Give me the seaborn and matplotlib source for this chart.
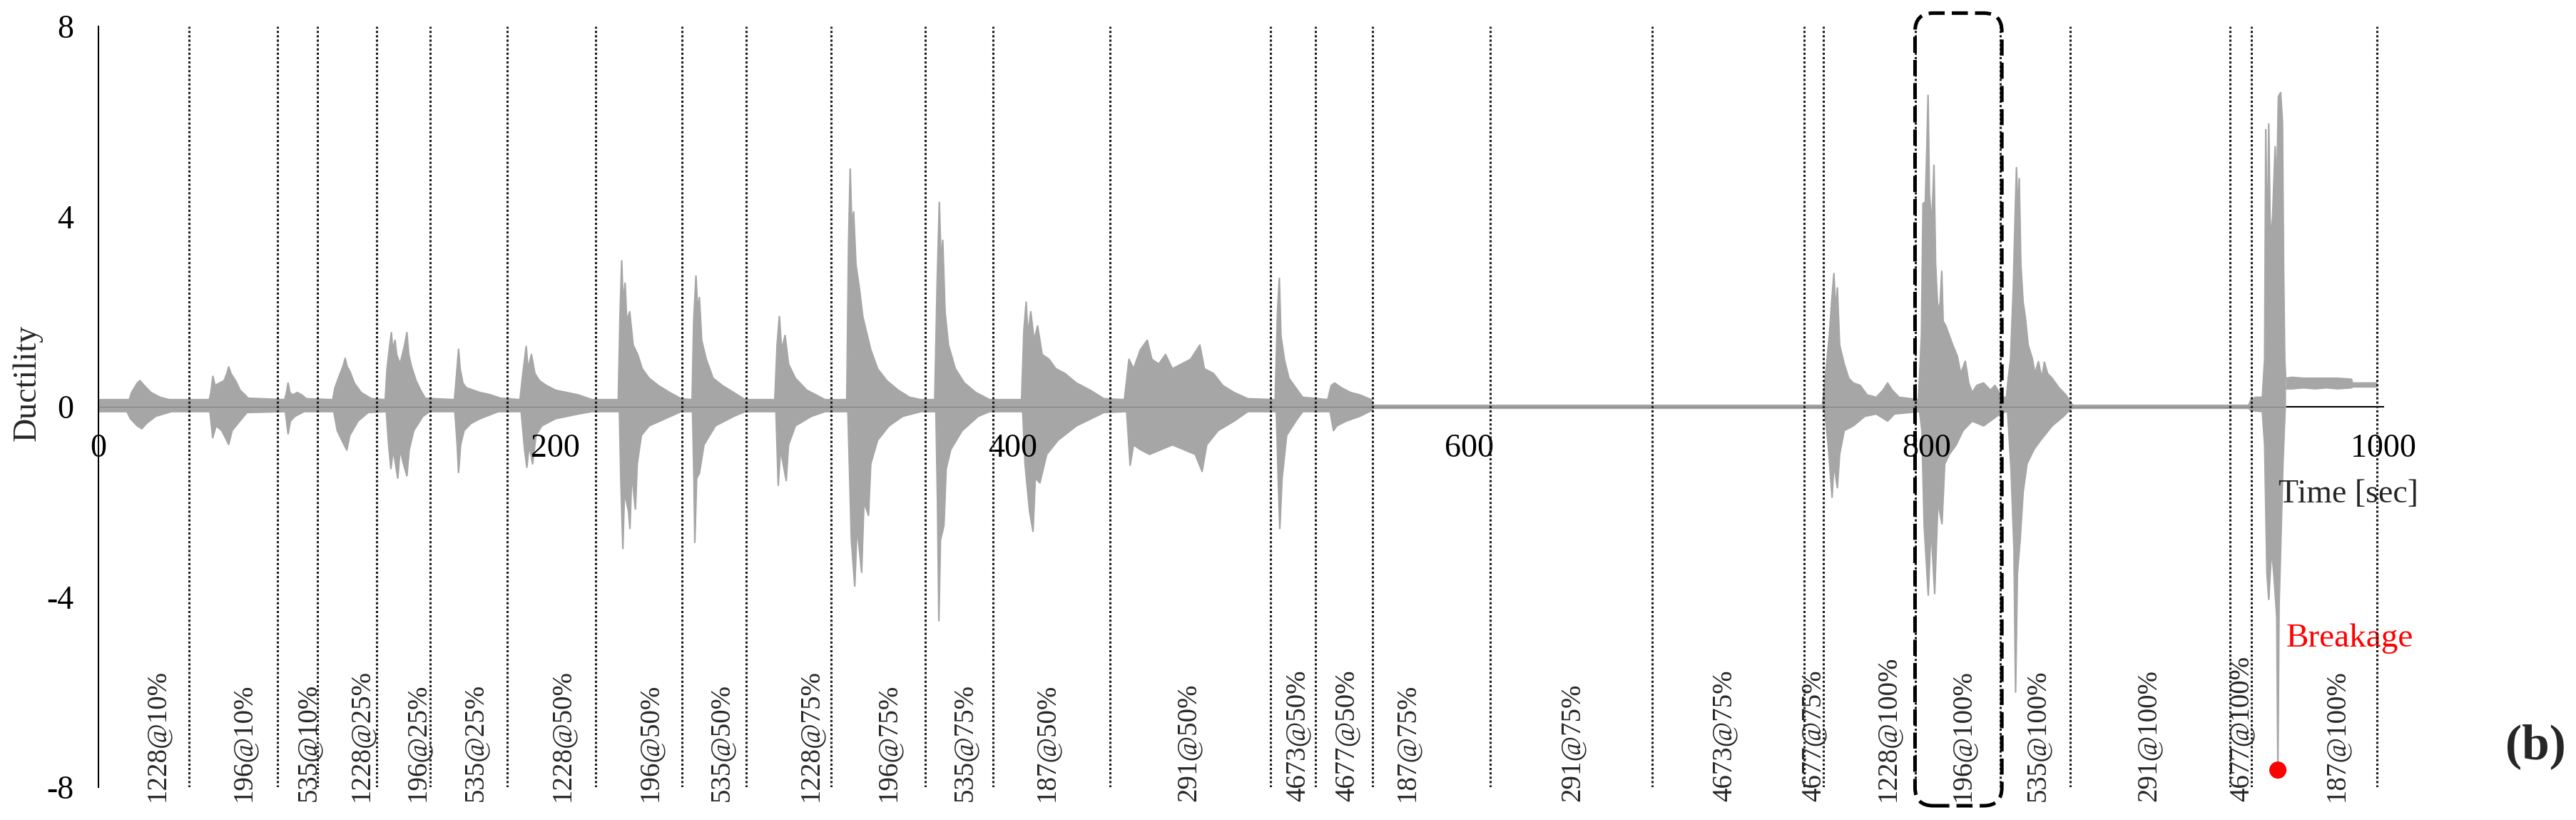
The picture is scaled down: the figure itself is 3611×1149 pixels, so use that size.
import matplotlib
matplotlib.use("Agg")
import matplotlib.pyplot as plt
from matplotlib.patches import FancyBboxPatch
import seaborn as sns

# ---------------- data ----------------
# end time [sec] of each loading stage, its name and where the name is written
stage_end = [39.6, 78.3, 95.7, 121.8, 145.3, 179.0, 217.5, 255.4, 283.6, 320.7,
             361.9, 391.6, 442.8, 512.9, 532.5, 557.6, 609.2, 680.0, 746.5, 754.8,
             795.1, 832.4, 862.9, 932.8, 942.1, 997.3]
stage_name = ["1228@10%", "196@10%", "535@10%", "1228@25%", "196@25%", "535@25%",
              "1228@50%", "196@50%", "535@50%", "1228@75%", "196@75%", "535@75%",
              "187@50%", "291@50%", "4673@50%", "4677@50%", "187@75%", "291@75%",
              "4673@75%", "4677@75%", "1228@100%", "196@100%", "535@100%",
              "291@100%", "4677@100%", "187@100%"]
stage_label_t = [25.9, 63.5, 92.1, 115.2, 139.6, 165.1, 203.2, 241.6, 272.6, 311.6,
                 345.9, 379.3, 415.2, 477.0, 524.8, 546.4, 572.6, 645.0, 711.5, 750.5,
                 783.3, 816.1, 848.6, 897.3, 937.9, 979.4]

# upper envelope of the ductility record
up_t = [0, 13.5, 14.5, 17.0, 18.2, 20.0, 23.0, 27.0, 31.0, 48.5, 49.2, 50.1, 51.0, 53.0,
        55.0, 56.2, 57.0, 58.0, 60.0, 62.0, 65.6, 81.5, 82.3, 83.0, 83.8, 85.0, 87.0,
        89.0, 91.0, 102.5, 103.5, 105.0, 107.0, 108.0, 108.8, 110.0, 112.0, 115.0,
        119.5, 125.5, 126.3, 127.5, 128.2, 128.8, 129.8, 130.5, 132.0, 134.0, 135.0,
        135.8, 137.0, 139.0, 141.0, 143.0, 155.8, 156.6, 157.6, 158.3, 159.5, 161.0,
        164.0, 167.0, 171.0, 176.0, 184.5, 185.5, 186.5, 187.2, 188.0, 189.5, 191.0,
        193.0, 196.0, 200.0, 205.0, 210.0, 216.0, 227.5, 228.3, 229.0, 229.6, 230.5,
        231.2, 232.5, 234.0, 236.0, 238.0, 241.0, 245.0, 250.0, 255.0, 259.8, 260.5,
        261.5, 262.3, 263.0, 264.0, 266.0, 269.0, 273.0, 278.0, 283.0, 296.0, 297.0,
        298.0, 299.0, 300.5, 302.0, 305.0, 310.0, 318.0, 327.5, 328.3, 329.0, 329.7,
        330.5, 331.5, 333.0, 334.5, 336.0, 338.0, 341.0, 345.0, 350.0, 355.0, 360.0,
        366.0, 367.0, 368.0, 368.8, 369.5, 370.5, 372.0, 375.0, 379.0, 384.0, 390.0,
        404.0, 405.0, 406.0, 406.8, 408.0, 409.5, 411.0, 413.0, 416.0, 419.0, 423.0,
        428.0, 434.0, 440.0, 449.0, 451.0, 453.0, 456.0, 459.0, 461.0, 464.0, 467.0,
        470.0, 474.0, 478.0, 482.0, 484.0, 488.0, 492.0, 497.0, 503.0, 515.0, 516.0,
        516.8, 517.5, 519.0, 521.0, 524.0, 527.0, 538.0, 539.5, 541.0, 544.0, 548.0,
        552.0, 557.0, 558.0, 754.5, 755.5, 757.5, 758.5, 759.5, 760.3, 761.0, 762.0,
        764.0, 766.0, 768.0, 771.0, 774.0, 778.0, 781.0, 783.0, 785.0, 788.0, 796.5,
        797.8, 798.5, 799.5, 800.2, 800.7, 801.3, 802.3, 803.3, 804.0, 805.0, 806.0,
        806.7, 807.3, 808.5, 810.0, 811.5, 813.5, 815.0, 817.0, 818.5, 820.0, 822.0,
        825.0, 828.0, 830.0, 833.0, 835.0, 835.8, 836.8, 838.0, 838.8, 839.4, 840.1,
        840.6, 841.3, 842.3, 843.3, 844.5, 846.3, 847.5, 849.0, 850.5, 851.6, 853.0,
        855.0, 858.0, 861.0, 863.0, 864.0, 941.0, 942.0, 944.0, 947.0, 948.0, 948.5,
        949.2, 949.8, 950.5, 951.5, 952.6, 953.3, 954.0, 955.0, 955.8, 956.3, 956.8,
        957.2]
up_v = [0.15, 0.15, 0.3, 0.5, 0.55, 0.45, 0.3, 0.2, 0.15, 0.15, 0.3, 0.64, 0.45, 0.5,
        0.55, 0.7, 0.84, 0.7, 0.55, 0.35, 0.18, 0.15, 0.3, 0.5, 0.3, 0.25, 0.3,
        0.25, 0.17, 0.15, 0.4, 0.6, 0.85, 1.02, 0.85, 0.75, 0.5, 0.3,
        0.17, 0.15, 0.8, 1.3, 1.56, 1.2, 1.4, 1.1, 0.9, 1.3, 1.56,
        1.1, 0.85, 0.55, 0.35, 0.18, 0.15, 0.6, 1.21, 0.8, 0.5, 0.4,
        0.35, 0.3, 0.26, 0.18, 0.15, 0.6, 1.0, 1.27, 0.8, 1.1, 0.7,
        0.55, 0.45, 0.35, 0.3, 0.25, 0.15, 0.15, 2.0, 3.07, 2.2, 2.6,
        1.8, 2.0, 1.3, 1.1, 0.8, 0.6, 0.45, 0.3, 0.17, 0.15, 1.8,
        2.75, 2.0, 2.3, 1.4, 1.0, 0.6, 0.45, 0.3, 0.15, 0.15, 1.3,
        1.9, 1.2, 1.5, 0.9, 0.6, 0.35, 0.15, 0.15, 3.5, 5.0, 3.8,
        4.1, 3.0, 2.5, 1.9, 1.6, 1.2, 0.8, 0.55, 0.35, 0.2, 0.15,
        0.15, 2.5, 4.3, 3.0, 3.5, 2.0, 1.3, 0.8, 0.5, 0.3, 0.15,
        0.15, 1.6, 2.2, 1.5, 2.0, 1.4, 1.7, 1.1, 1.0, 0.8, 0.7,
        0.5, 0.35, 0.17, 0.15, 1.0, 0.8, 1.2, 1.4, 1.0, 0.9, 1.1,
        0.8, 0.9, 1.0, 1.3, 0.8, 0.7, 0.45, 0.3, 0.17, 0.15, 2.0,
        2.7, 1.5, 1.0, 0.6, 0.4, 0.2, 0.15, 0.45, 0.5, 0.4, 0.3,
        0.25, 0.15, 0.03, 0.03, 0.5, 1.5, 2.2, 2.8, 2.0, 2.5, 1.3,
        0.9, 0.6, 0.5, 0.45, 0.25, 0.2, 0.35, 0.5, 0.35, 0.2, 0.15,
        1.5, 4.28, 4.3, 5.5, 6.55, 4.5, 3.8, 5.08, 3.0, 2.0, 2.2,
        2.85, 1.8, 1.7, 1.5, 1.3, 1.07, 0.7, 0.96, 0.5, 0.3, 0.45,
        0.5, 0.35, 0.45, 0.2, 0.2, 0.6, 1.0, 2.5, 4.0, 5.03, 4.0,
        4.8, 3.0, 2.2, 1.87, 1.3, 1.02, 0.7, 0.95, 0.6, 0.94, 0.7,
        0.6, 0.4, 0.25, 0.1, 0.03, 0.03, 0.15, 0.2, 0.2, 1.0, 5.83,
        3.0, 5.95, 3.5, 4.0, 5.47, 4.5, 6.52, 6.61, 6.0, 2.89, 1.0,
        0.6]

# lower envelope of the ductility record
lo_t = [0, 12.5, 14.0, 17.0, 19.0, 21.0, 25.0, 32.0, 48.8, 50.0, 51.5, 54.0, 57.0, 58.5,
        61.0, 65.0, 81.8, 83.0, 84.0, 86.0, 90.0, 103.0, 104.5, 107.0, 108.7, 110.0,
        113.6, 118.0, 126.0, 127.0, 128.0, 129.0, 131.0, 132.0, 133.5, 135.0, 136.0,
        138.0, 142.0, 145.0, 156.0, 157.0, 157.6, 158.5, 160.0, 163.0, 167.0, 175.0,
        185.0, 186.5, 187.5, 188.5, 190.0, 191.5, 194.0, 200.0, 210.0, 216.0, 228.0,
        228.6, 229.5, 230.2, 232.0, 232.6, 233.4, 235.0, 235.8, 237.6, 241.0, 248.0,
        255.0, 260.0, 260.6, 261.0, 261.8, 263.0, 265.0, 270.0, 278.0, 283.0, 296.5,
        297.5, 298.5, 301.0, 302.0, 305.0, 312.0, 318.0, 328.0, 329.5, 331.0, 332.0,
        334.0, 335.0, 337.0, 338.0, 341.0, 346.0, 352.0, 360.0, 366.5, 367.2, 367.8,
        368.5, 370.0, 371.0, 373.0, 378.0, 385.0, 390.0, 404.5, 405.5, 406.5, 407.5,
        409.0, 410.0, 412.0, 415.0, 420.0, 428.0, 440.0, 450.0, 451.5, 453.0, 456.0,
        460.0, 465.0, 470.0, 475.0, 480.0, 483.0, 485.0, 490.0, 497.0, 503.0, 515.5,
        516.3, 517.0, 518.0, 520.0, 524.0, 527.0, 539.0, 540.5, 542.0, 546.0, 552.0,
        557.0, 558.0, 754.5, 755.5, 757.0, 758.7, 759.5, 761.0, 762.0, 764.0, 768.0,
        773.0, 778.0, 783.0, 786.0, 797.0, 798.0, 799.0, 800.8, 802.0, 803.6, 805.0,
        806.8, 808.0, 810.0, 813.0, 816.0, 820.0, 825.0, 833.0, 835.5, 837.0, 838.3,
        839.0, 839.8, 841.0, 842.3, 844.0, 847.0, 850.0, 855.0, 860.0, 863.0, 864.0,
        941.0, 942.0, 947.0, 948.0, 949.0, 949.8, 951.0, 952.0, 953.3, 953.8, 954.3,
        955.0, 956.0, 957.0]
lo_v = [-0.1, -0.1, -0.25, -0.4, -0.46, -0.35, -0.2, -0.1, -0.1, -0.65, -0.4, -0.5, -0.79, -0.5,
        -0.35, -0.12, -0.1, -0.57, -0.3, -0.2, -0.1, -0.1, -0.5, -0.75, -0.91, -0.6,
        -0.3, -0.12, -0.1, -0.8, -1.3, -0.9, -1.5, -0.9, -1.2, -1.45, -0.9,
        -0.5, -0.2, -0.1, -0.1, -0.8, -1.38, -0.8, -0.5, -0.35, -0.25, -0.1,
        -0.1, -0.9, -1.27, -0.8, -1.2, -0.6, -0.4, -0.25, -0.15, -0.1, -0.1,
        -1.5, -2.98, -1.8, -2.2, -2.56, -1.4, -2.15, -1.2, -0.6, -0.4, -0.25,
        -0.1, -0.1, -1.5, -2.85, -1.5, -1.4, -0.8, -0.4, -0.2, -0.1, -0.1,
        -1.65, -0.9, -1.55, -0.8, -0.4, -0.2, -0.1, -0.1, -2.8, -3.77, -2.5,
        -3.48, -2.0, -2.28, -1.2, -0.7, -0.4, -0.2, -0.1, -0.1, -2.0, -4.5,
        -2.8, -2.5, -1.3, -0.9, -0.5, -0.2, -0.1, -0.1, -1.2, -1.7, -2.2,
        -2.62, -1.5, -1.6, -1.0, -0.7, -0.4, -0.12, -0.1, -1.23, -0.8, -0.9,
        -1.0, -0.9, -0.8, -0.9, -1.0, -1.36, -0.8, -0.5, -0.3, -0.1, -0.1,
        -1.5, -2.56, -1.5, -0.6, -0.3, -0.1, -0.1, -0.5, -0.4, -0.3, -0.2,
        -0.08, -0.03, -0.03, -0.1, -0.8, -1.9, -1.2, -1.7, -1.0, -0.5, -0.4,
        -0.2, -0.15, -0.3, -0.15, -0.1, -0.5, -2.5, -3.96, -2.5, -3.93, -2.0,
        -2.46, -1.2, -1.0, -0.8, -0.5, -0.3, -0.4, -0.12, -0.1, -1.3, -3.0,
        -6.0, -3.5, -2.8, -1.8, -1.2, -0.9, -0.7, -0.4, -0.2, -0.05, -0.03,
        -0.03, -0.08, -0.1, -0.8, -3.5, -4.05, -3.0, -3.5, -4.42, -7.64, -4.2,
        -3.0, -1.2, 0.0]

# residual record after breakage
post_t = [957.2, 960.0, 965.0, 970.0, 975.0, 980.0, 986.0, 986.5, 997.0]
post_hi = [0.6, 0.62, 0.6, 0.6, 0.6, 0.6, 0.58, 0.5, 0.5]
post_lo = [0.38, 0.38, 0.4, 0.38, 0.4, 0.38, 0.4, 0.42, 0.42]

break_t = [953.8]
break_v = [-7.64]

# highlighted stage (dashed box)
box_t = (795.0, 833.0)

# ---------------- style ----------------
sns.set_style("white")
plt.rcParams["font.family"] = ["Liberation Serif", "DejaVu Serif"]
plt.rcParams["axes.unicode_minus"] = False

gray = "#a6a6a6"

fig = plt.figure(figsize=(36.12, 11.49), dpi=100)
ax = fig.add_axes([0.0382, 0.0400, 0.8868, 0.9278])

# signal envelope
ax.fill_between(up_t, 0, up_v, color=gray, lw=0, zorder=1)
ax.fill_between(lo_t, lo_v, 0, color=gray, lw=0, zorder=1)
ax.fill_between(post_t, post_lo, post_hi, color=gray, lw=0, zorder=1)
for xs, ys in [(up_t, up_v), (lo_t, lo_v), (post_t, post_hi), (post_t, post_lo)]:
    sns.lineplot(x=xs, y=ys, color=gray, lw=1.6, estimator=None, sort=False, ax=ax, zorder=1)

# stage separators and names
ax.vlines(stage_end, -8, 8, colors="#1a1a1a", linestyles=(0, (1, 1)), lw=2.2, zorder=4)
for xt, name in zip(stage_label_t, stage_name):
    ax.text(xt, -8.3, name, rotation=90, ha="center", va="bottom", fontsize=28, zorder=5)

# breakage point
sns.scatterplot(x=break_t, y=break_v, color="#ff0000", s=300, edgecolor="none",
                ax=ax, zorder=6)
ax.text(957.5, -4.88, "Breakage", color="#ff0000", fontsize=34, ha="left", va="center")

# dashed box around 196@100%
box = FancyBboxPatch((box_t[0], -8.39), box_t[1] - box_t[0], 16.67,
                     boxstyle="round,pad=0,rounding_size=8", mutation_aspect=0.048,
                     fill=False, ec="black", lw=3.6, ls=(0, (4.5, 2)), clip_on=False,
                     zorder=5)
ax.add_patch(box)

# axes
ax.set_xlim(0, 1000)
ax.set_ylim(-8, 8)
ax.spines["bottom"].set_position(("data", 0))
ax.spines["top"].set_visible(False)
ax.spines["right"].set_visible(False)
for s in ["bottom", "left"]:
    ax.spines[s].set_linewidth(1.5)
    ax.spines[s].set_color("black")
ax.spines["bottom"].set_zorder(0.5)
ax.set_axisbelow(False)
ax.set_xticks([0, 200, 400, 600, 800, 1000])
ax.set_yticks([-8, -4, 0, 4, 8])
ax.tick_params(axis="both", labelsize=33, width=1.5, length=9, direction="out",
               color="black", labelcolor="black")
ax.tick_params(axis="x", pad=18)
ax.tick_params(axis="y", pad=16)

ax.text(-31, 0.5, "Ductility", rotation=90, ha="center", va="center", fontsize=33)
ax.text(984.5, -1.84, "Time [sec]", ha="center", va="center", fontsize=33)
fig.text(3554 / 3612, 1 - 1046 / 1149, "(b)", fontsize=50, fontweight="bold",
         ha="center", va="center")

fig.savefig("out.png", dpi=100)
